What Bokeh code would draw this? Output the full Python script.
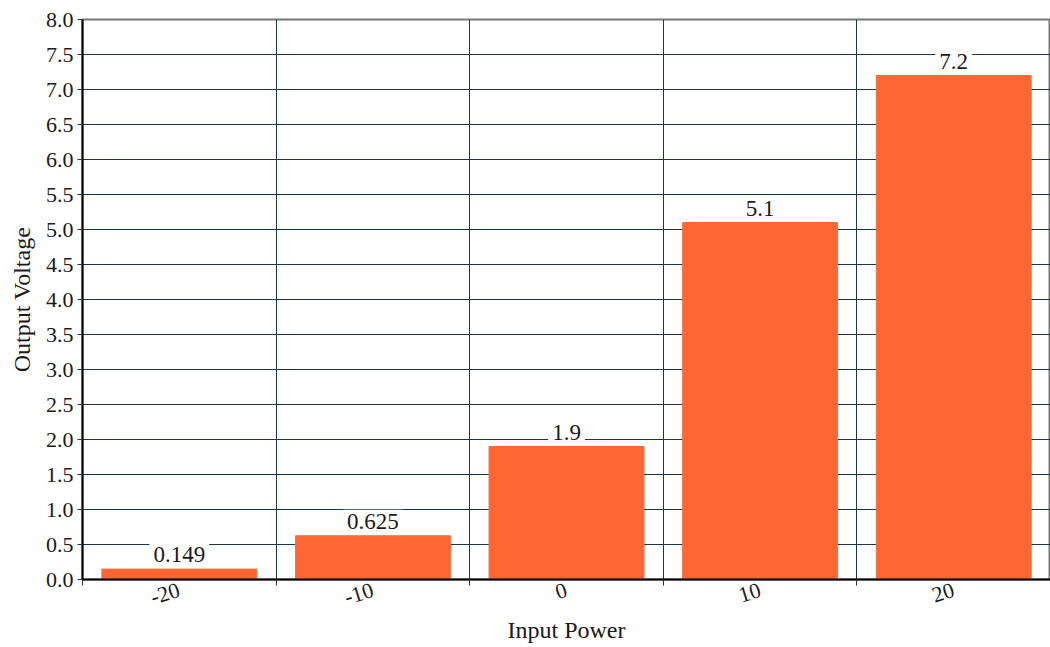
from bokeh.plotting import figure
from bokeh.models import ColumnDataSource, FixedTicker, Label, Range1d, PrintfTickFormatter
from bokeh.embed import file_html
from bokeh.resources import INLINE

categories = ["-20", "-10", "0", "10", "20"]
values = [0.149, 0.625, 1.9, 5.1, 7.2]
labels = ["0.149", "0.625", "1.9", "5.1", "7.2"]

xs = [i + 0.5 for i in range(len(categories))]
src = ColumnDataSource(dict(x=xs, top=values, lab=labels))

FONT = "Liberation Serif"
GRID = "#1c3550"
TXT = "#1a1a1a"

p = figure(width=1050, height=647, output_backend="svg", toolbar_location=None,
           x_range=Range1d(0, len(categories)), y_range=Range1d(0, 8),
           min_border_left=82, min_border_right=0, min_border_top=19, min_border_bottom=68)

p.vbar(x="x", top="top", width=0.8, source=src, fill_color="#FF6633",
       line_color="#F2703F", line_width=1)

for x, v, lab in zip(xs, values, labels):
    p.add_layout(Label(x=x, y=v, text=lab, text_align="center",
                       text_baseline="bottom", y_offset=3, text_font=FONT,
                       text_font_size="23px", text_color=TXT,
                       background_fill_color="white", background_fill_alpha=1.0,
                       padding=4))

# x axis
p.xaxis.ticker = FixedTicker(ticks=xs, minor_ticks=list(range(len(categories) + 1)))
p.xaxis.major_label_overrides = {x: c for x, c in zip(xs, categories)}
p.xaxis.major_label_orientation = 0.3
p.xaxis.major_tick_out = 0
p.xaxis.major_tick_in = 0
p.xaxis.minor_tick_out = 6
p.xaxis.minor_tick_in = 0
p.xaxis.minor_tick_line_color = "#333333"
p.xaxis.axis_label = "Input Power"

# y axis
p.yaxis.ticker = FixedTicker(ticks=[i * 0.5 for i in range(17)])
p.yaxis.formatter = PrintfTickFormatter(format="%.1f")
p.yaxis.major_tick_out = 5
p.yaxis.major_tick_in = 0
p.yaxis.minor_tick_line_color = None
p.yaxis.axis_label = "Output Voltage"

for ax in (p.xaxis, p.yaxis):
    ax.axis_line_color = "black"
    ax.axis_line_width = 2
    ax.major_label_text_font = FONT
    ax.major_label_text_font_size = "22px"
    ax.major_label_text_color = TXT
    ax.axis_label_text_font = FONT
    ax.axis_label_text_font_size = "24px"
    ax.axis_label_text_font_style = "normal"
    ax.axis_label_text_color = TXT
    ax.major_tick_line_color = "#333333"
p.yaxis.major_label_standoff = 4
p.xaxis.major_label_standoff = 4
p.xaxis.axis_label_standoff = 2
p.yaxis.axis_label_standoff = 8

p.xgrid.ticker = FixedTicker(ticks=list(range(1, len(categories))))
p.xgrid.grid_line_color = GRID
p.ygrid.grid_line_color = GRID
p.xgrid.grid_line_width = 1
p.ygrid.grid_line_width = 1

p.outline_line_color = "#777777"
p.outline_line_width = 2

open("out.html", "w").write(file_html(p, INLINE))
